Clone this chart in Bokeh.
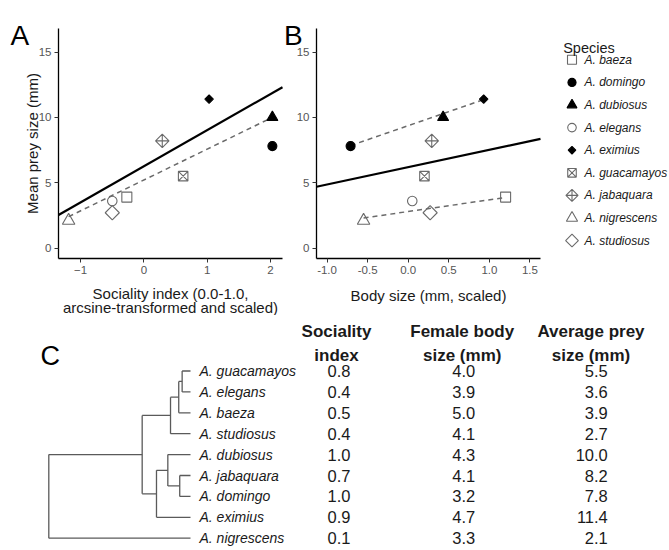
import math
from bokeh.plotting import figure
from bokeh.models import Range1d, FixedTicker, PrintfTickFormatter, Label, ColumnDataSource
from bokeh.layouts import column, row
from bokeh.embed import file_html
from bokeh.resources import INLINE
from bokeh.core.properties import value

FONT = "Liberation Sans"

# ---------------- data (panels A and B) ----------------
species = ["A. baeza", "A. domingo", "A. dubiosus", "A. elegans", "A. eximius",
           "A. guacamayos", "A. jabaquara", "A. nigrescens", "A. studiosus"]
sociality_scaled = [-0.27, 2.03, 2.03, -0.50, 1.03, 0.62, 0.29, -1.19, -0.50]
body_size_scaled = [1.20, -0.71, 0.43, 0.05, 0.93, 0.20, 0.29, -0.55, 0.27]
mean_prey_size = [3.9, 7.8, 10.0, 3.6, 11.4, 5.5, 8.2, 2.1, 2.7]

# fitted lines
fitA_solid = (6.26, 2.76)          # intercept, slope
fitA_dash_x = [-1.19, 2.03]
fitA_dash_y = [2.40, 10.0]
fitB_solid = (6.19, 1.33)
fitB_dash_hi_x = [-0.71, 0.93]
fitB_dash_hi_y = [7.84, 11.36]
fitB_dash_lo_x = [-0.55, 1.20]
fitB_dash_lo_y = [2.30, 3.87]

xticksA = [-1, 0, 1, 2]
xticksB = [-1.0, -0.5, 0.0, 0.5, 1.0, 1.5]
yticks = [0, 5, 10, 15]

# ---------------- data (panel C) ----------------
tip_order = ["A. guacamayos", "A. elegans", "A. baeza", "A. studiosus", "A. dubiosus",
             "A. jabaquara", "A. domingo", "A. eximius", "A. nigrescens"]
sociality_index = [0.8, 0.4, 0.5, 0.4, 1.0, 0.7, 1.0, 0.9, 0.1]
female_body_size = [4.0, 3.9, 5.0, 4.1, 4.3, 4.1, 3.2, 4.7, 3.3]
average_prey_size = [5.5, 3.6, 3.9, 2.7, 10.0, 8.2, 7.8, 11.4, 2.1]
# tree: (node depth, children); ints are tip indices in tip_order; root depth 0, tips depth 1
tree = (0.0, [(0.659, [(0.859, [(0.917, [(0.941, [0, 1]), 2]), 3]),
                       (0.760, [(0.840, [4, (0.924, [5, 6])]), 7])]), 8])

# ---------------- styles ----------------
GREY = "#6a6a6a"
TXT = "#1a1a1a"
mk_marker = ["square", "circle", "triangle", "circle", "square",
             "square_x", "square_x", "triangle", "square"]
mk_angle = [0, 0, 0, 0, math.pi / 4, 0, math.pi / 4, 0, math.pi / 4]
mk_filled = [False, True, True, False, True, False, False, False, False]
mk_size = [10, 9, 11, 9.5, 6, 9.5, 9.5, 12.5, 10]
mk_fill = ["black" if f else None for f in mk_filled]
mk_line = ["black" if f else GREY for f in mk_filled]

YR = (-0.8, 16.8)
XRA = (-1.35, 2.19)
XRB = (-1.13, 1.63)
TOP_H = 315
TOTAL_W = 668
TOTAL_H = 549


class Panel:
    """Figure whose canvas is all frame; axes are placed at the plotting-region edges."""

    def __init__(self, x0, width, left, right, top, bottom, xr, yr):
        self.sx = (right - left) / (xr[1] - xr[0])
        self.sy = (bottom - top) / (yr[1] - yr[0])
        self.left, self.bottom, self.xr, self.yr = left, bottom, xr, yr
        xs = xr[0] - (left - x0) / self.sx
        xe = xr[1] + (x0 + width - right) / self.sx
        ye = yr[1] + top / self.sy
        ys = yr[0] - (TOP_H - bottom) / self.sy
        p = figure(width=width, height=TOP_H, x_range=Range1d(xs, xe), y_range=Range1d(ys, ye),
                   output_backend="svg", toolbar_location=None, title_location=None, min_border=0)
        p.xgrid.visible = False
        p.ygrid.visible = False
        p.outline_line_color = None
        p.xaxis.fixed_location = yr[0]
        p.xaxis.bounds = xr
        p.yaxis.fixed_location = xr[0]
        p.yaxis.bounds = yr
        for ax in p.axis:
            ax.axis_line_color = "black"
            ax.axis_line_width = 1.3
            ax.major_tick_line_color = "#333333"
            ax.major_tick_line_width = 1
            ax.major_tick_out = 4
            ax.major_tick_in = 0
            ax.minor_tick_line_color = None
            ax.major_label_text_font = FONT
            ax.major_label_text_font_size = "11.5px"
            ax.major_label_text_color = "#555555"
            ax.major_label_standoff = 3
        p.yaxis.ticker = FixedTicker(ticks=yticks)
        self.p = p

    def X(self, px):
        return self.xr[0] + (px - self.left) / self.sx

    def Y(self, py):
        return self.yr[0] + (self.bottom - py) / self.sy

    def label(self, px, py, text, size, align="center", angle=0.0, color=TXT):
        self.p.add_layout(Label(x=self.X(px), y=self.Y(py), text=text, angle=angle,
                                text_align=align, text_baseline="alphabetic", text_font=FONT,
                                text_font_size=size, text_color=color))


def scatter_species(p, xs):
    src = ColumnDataSource(dict(x=xs, y=mean_prey_size, marker=mk_marker, angle=mk_angle,
                                size=mk_size, fill=mk_fill, line=mk_line))
    p.scatter("x", "y", source=src, marker="marker", angle="angle", size="size",
              fill_color="fill", line_color="line", line_width=1.1)


# ---------------- panel A ----------------
A = Panel(0, 283, 58, 282, 28, 258, XRA, YR)
pA = A.p
pA.xaxis.ticker = FixedTicker(ticks=xticksA)
b0, b1 = fitA_solid
pA.line(list(XRA), [b0 + b1 * XRA[0], b0 + b1 * XRA[1]], line_color="black", line_width=2.2)
pA.line(fitA_dash_x, fitA_dash_y, line_color=GREY, line_width=1.5, line_dash="5 4")
scatter_species(pA, sociality_scaled)
A.label(31.5, 143, "Mean prey size (mm)", "15px", angle=math.pi / 2)
A.label(170, 292.5, "Sociality index (0.0-1.0,", "15px")
A.label(170, 307, "arcsine-transformed and scaled)", "15px")
A.label(10, 35, "A", "28px", align="left", color="black")

# ---------------- panel B ----------------
B = Panel(283, 265, 316, 540, 28, 258, XRB, YR)
pB = B.p
pB.xaxis.ticker = FixedTicker(ticks=xticksB)
pB.xaxis.formatter = PrintfTickFormatter(format="%.1f")
c0, c1 = fitB_solid
pB.line(list(XRB), [c0 + c1 * XRB[0], c0 + c1 * XRB[1]], line_color="black", line_width=2.2)
pB.line(fitB_dash_hi_x, fitB_dash_hi_y, line_color=GREY, line_width=1.5, line_dash="5 4")
pB.line(fitB_dash_lo_x, fitB_dash_lo_y, line_color=GREY, line_width=1.5, line_dash="5 4")
scatter_species(pB, body_size_scaled)
B.label(428, 295, "Body size (mm, scaled)", "15px")
B.label(283.5, 35, "B", "28px", align="left", color="black")

# ---------------- legend panel ----------------
pL = figure(width=TOTAL_W - 548, height=TOP_H, x_range=Range1d(548, TOTAL_W),
            y_range=Range1d(TOP_H, 0), output_backend="svg", toolbar_location=None,
            title_location=None, x_axis_type=None, y_axis_type=None, min_border=0)
pL.outline_line_color = None
leg_y = [59.3 + 22.6 * i for i in range(len(species))]
lsrc = ColumnDataSource(dict(x=[571.5] * len(species), y=leg_y, marker=mk_marker, angle=mk_angle,
                             size=[s * 0.9 for s in mk_size], fill=mk_fill, line=mk_line,
                             tx=[584] * len(species), label=species))
pL.scatter("x", "y", source=lsrc, marker="marker", angle="angle", size="size",
           fill_color="fill", line_color="line", line_width=1.1)
pL.text("tx", "y", text="label", source=lsrc, text_font=value(FONT), text_font_size="12px",
        text_font_style="italic", text_baseline="middle", text_align="left", text_color=TXT)
pL.text([562.7], [47.7], text=["Species"], text_font=value(FONT), text_font_size="14.5px",
        text_baseline="alphabetic", text_align="left", text_color=TXT)

# ---------------- panel C ----------------
ROW0, ROWH = 370.5, 20.9
C_H = TOTAL_H - TOP_H
pC = figure(width=TOTAL_W, height=C_H, x_range=Range1d(0, TOTAL_W),
            y_range=Range1d((TOTAL_H - ROW0) / ROWH, (TOP_H - ROW0) / ROWH),
            output_backend="svg", toolbar_location=None, title_location=None,
            x_axis_type=None, y_axis_type=None, min_border=0)
pC.outline_line_color = None

TREE_X0, TREE_W = 48.3, 141.7
segs = []


def walk(node):
    if isinstance(node, int):
        return 1.0, float(node)
    d, kids = node
    ys = []
    for k in kids:
        kd, ky = walk(k)
        segs.append((d, ky, kd, ky))
        ys.append(ky)
    segs.append((d, min(ys), d, max(ys)))
    return d, (min(ys) + max(ys)) / 2


walk(tree)
pC.segment(x0=[TREE_X0 + s[0] * TREE_W for s in segs], y0=[s[1] for s in segs],
           x1=[TREE_X0 + s[2] * TREE_W for s in segs], y1=[s[3] for s in segs],
           line_color="#5a5a5a", line_width=1.3)

rows = list(range(len(tip_order)))
pC.text([199] * len(rows), rows, text=tip_order, text_font=value(FONT), text_font_size="14px",
        text_font_style="italic", text_baseline="middle", text_align="left", text_color=TXT)
pC.text([338.5] * len(rows), rows, text=["%.1f" % v for v in sociality_index],
        text_font=value(FONT), text_font_size="16.5px", text_baseline="middle",
        text_align="center", text_color=TXT)
pC.text([463.3] * len(rows), rows, text=["%.1f" % v for v in female_body_size],
        text_font=value(FONT), text_font_size="16.5px", text_baseline="middle",
        text_align="center", text_color=TXT)
pC.text([607.3] * len(rows), rows, text=["%.1f" % v for v in average_prey_size],
        text_font=value(FONT), text_font_size="16.5px", text_baseline="middle",
        text_align="right", text_color=TXT)

h1 = (331 - ROW0) / ROWH
h2 = (354.5 - ROW0) / ROWH
pC.text([336, 461.7, 590.5, 336, 461.7, 590.5], [h1, h1, h1, h2, h2, h2],
        text=["Sociality", "Female body", "Average prey", "index", "size (mm)", "size (mm)"],
        text_font=value(FONT), text_font_size="17px", text_font_style="bold",
        text_baseline="alphabetic", text_align="center", text_color=TXT)
pC.text([40], [(355 - ROW0) / ROWH], text=["C"], text_font=value(FONT), text_font_size="27px",
        text_baseline="alphabetic", text_align="left", text_color="black")

layout = column(row(pA, pB, pL), pC)
open("out.html", "w").write(file_html(layout, INLINE))
